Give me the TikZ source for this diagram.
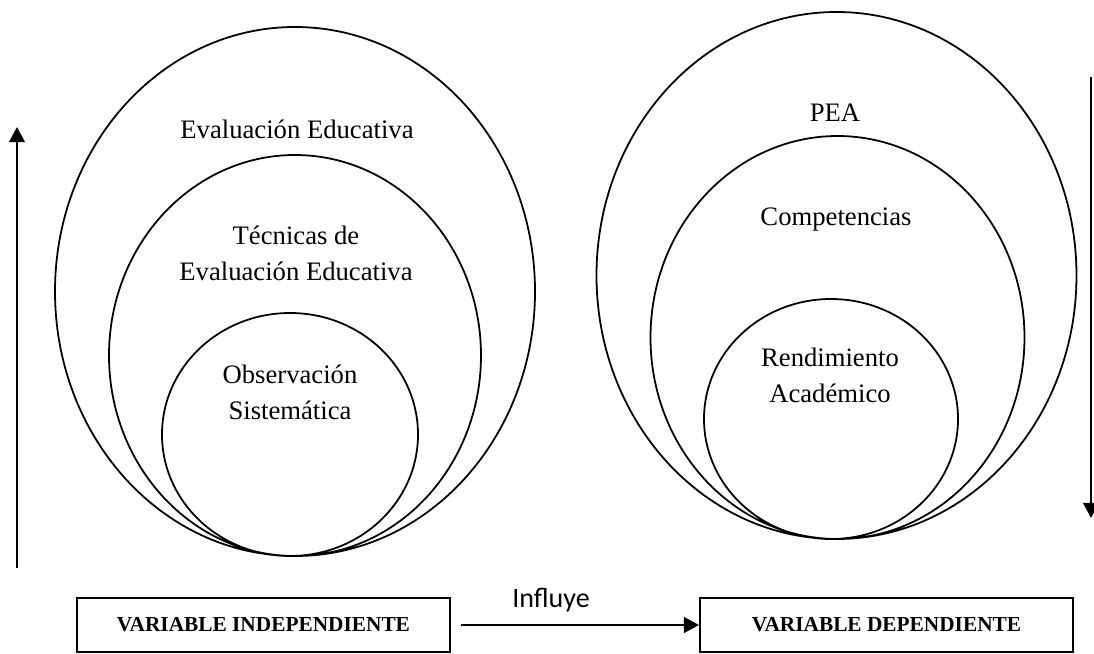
\documentclass[tikz,border=0pt]{standalone}
\usepackage{fontspec}
\setmainfont{Liberation Serif}
\newfontfamily\calibri{Carlito}
\usetikzlibrary{arrows.meta,positioning}

\begin{document}
\begin{tikzpicture}[x=0.45pt,y=-0.45pt]
    \tikzstyle{ring}=[line width=0.8pt]
    \tikzstyle{txt}=[font=\fontsize{12}{16.2}\selectfont, align=center, inner sep=0pt]
    \tikzstyle{varbox}=[draw, line width=0.8pt, minimum width=167.9pt, minimum height=24.3pt,
                        font=\fontsize{9.6}{11}\selectfont\bfseries]
    \tikzstyle{flecha}=[line width=1.1pt, -{Triangle[length=6.8pt,width=7pt]}]

    \useasboundingbox (0,0) rectangle (1094,654);

    \draw[ring] (295,291.5) ellipse [x radius=240, y radius=264.5]
                (295,355.5) ellipse [x radius=186, y radius=200.5]
                (290,434.5) ellipse [x radius=128, y radius=121.5];

    \draw[ring] (836.5,275.5) ellipse [x radius=240, y radius=263.5]
                (837.5,337.5) ellipse [x radius=187, y radius=201.5]
                (831,419)     ellipse [x radius=127, y radius=120];

    \node[txt] (evaluacion)   at (297,129) {Evaluación Educativa};
    \node[txt] (tecnicas)     at (296,253) {Técnicas de\\Evaluación Educativa};
    \node[txt] (observacion)  at (290,392) {Observación\\Sistemática};

    \node[txt] (pea)          at (835,113) {PEA};
    \node[txt] (competencias) at (836,220) {Competencias};
    \node[txt] (rendimiento)  at (830,375) {Rendimiento\\Académico};

    \node[varbox] (indep) at (263.5,625) {VARIABLE INDEPENDIENTE};
    \node[varbox] (dep)   at (886.5,625) {VARIABLE DEPENDIENTE};

    \draw[flecha] ([xshift=4.5pt]indep.east) -- (dep.west);
    \node[font=\calibri\fontsize{12.6}{14}\selectfont, inner sep=0pt] (influye) at (551,600) {Influye};

    \coordinate (izqA) at (17,568);
    \coordinate (izqB) at (17,127);
    \draw[flecha] (izqA) -- (izqB);

    \coordinate (derA) at (1091,77);
    \coordinate (derB) at (1091,518);
    \draw[flecha] (derA) -- (derB);

\end{tikzpicture}
\end{document}
